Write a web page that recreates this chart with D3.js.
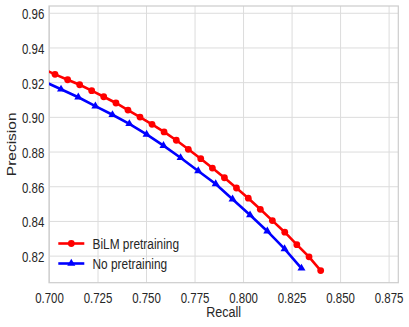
<!DOCTYPE html>
<html><head><meta charset="utf-8">
<script src="https://cdn.jsdelivr.net/npm/d3@7"></script>
<style>body{margin:0;background:#fff}svg{display:block}</style>
</head><body>
<svg id="c" width="409" height="327"></svg>
<script>
const bilmRecall = [0.6969,0.7031,0.7096,0.7158,0.7220,0.7282,0.7345,0.7407,0.7469,0.7531,0.7593,0.7656,0.7718,0.7782,0.7842,0.7904,0.7966,0.8027,0.8089,0.8151,0.8215,0.8277,0.8340,0.8400];
const bilmPrecision = [0.9276,0.9245,0.9214,0.9185,0.9151,0.9116,0.9080,0.9039,0.8999,0.8957,0.8913,0.8865,0.8813,0.8759,0.8705,0.8649,0.8590,0.8531,0.8467,0.8402,0.8335,0.8263,0.8193,0.8114];
const noRecall = [0.6973,0.7062,0.7151,0.7239,0.7327,0.7414,0.7503,0.7590,0.7678,0.7769,0.7859,0.7946,0.8036,0.8125,0.8214,0.8301];
const noPrecision = [0.9205,0.9159,0.9113,0.9062,0.9012,0.8960,0.8899,0.8834,0.8764,0.8688,0.8613,0.8525,0.8434,0.8341,0.8239,0.8127];
const seriesNames = ["BiLM pretraining","No pretraining"];
const xTicks = [0.700,0.725,0.750,0.775,0.800,0.825,0.850,0.875];
const yTicks = [0.82,0.84,0.86,0.88,0.90,0.92,0.94,0.96];
const xLabel = "Recall", yLabel = "Precision";

const L=49, R=398.3, T=6, B=282.7, W=R-L, H=B-T;
const svg = d3.select("#c");
const x = d3.scaleLinear().domain([0.7,0.88]).range([0,W]);
const y = d3.scaleLinear().domain([0.8044,0.9639]).range([H,0]);
const g = svg.append("g").attr("transform",`translate(${L},${T})`);
const font = "'Liberation Sans', Arial, sans-serif";
const SX = 0.82;

svg.append("defs").append("clipPath").attr("id","clip").append("rect").attr("width",W).attr("height",H);

const xa = g.append("g").attr("transform",`translate(0,${H})`)
  .call(d3.axisBottom(x).tickValues(xTicks).tickFormat(d3.format(".3f")).tickSize(-H).tickPadding(0));
const ya = g.append("g")
  .call(d3.axisLeft(y).tickValues(yTicks).tickFormat(d3.format(".2f")).tickSize(-W).tickPadding(0));
[xa,ya].forEach(a=>{
  a.select(".domain").remove();
  a.selectAll(".tick line").attr("stroke","#dcdcdc").attr("stroke-width",1);
  a.selectAll("text").attr("fill","#262626").style("font-family",font).style("font-size","14px")
    .attr("x",null).attr("y",null).attr("dy",null);
});
xa.selectAll("text").attr("text-anchor","middle").attr("transform",`translate(0,20.6) scale(${SX},1)`);
ya.selectAll("text").attr("text-anchor","end").attr("transform",`translate(-4.7,6) scale(${SX},1)`);

g.append("rect").attr("width",W).attr("height",H).attr("fill","none").attr("stroke","#cccccc").attr("stroke-width",1.2);

const line = d3.line().x(d=>x(d[0])).y(d=>y(d[1]));
const red = bilmRecall.map((r,i)=>[r,bilmPrecision[i]]);
const blue = noRecall.map((r,i)=>[r,noPrecision[i]]);
const plot = g.append("g").attr("clip-path","url(#clip)");
plot.append("path").datum(red).attr("d",line).attr("fill","none").attr("stroke","#ff0000").attr("stroke-width",2.6);
plot.append("path").datum(blue).attr("d",line).attr("fill","none").attr("stroke","#0000ff").attr("stroke-width",2.6);
plot.selectAll(".rm").data(red).join("circle").attr("cx",d=>x(d[0])).attr("cy",d=>y(d[1])).attr("r",3.4).attr("fill","#ff0000");
const tri = d3.symbol().type(d3.symbolTriangle).size(28);
plot.selectAll(".bm").data(blue).join("path").attr("d",tri).attr("transform",d=>`translate(${x(d[0])},${y(d[1])})`).attr("fill","#0000ff");

// axis labels
svg.append("text").attr("transform",`translate(${(L+R)/2},317.3) scale(0.81,1)`).attr("text-anchor","middle")
  .style("font-family",font).style("font-size","15.5px").attr("fill","#262626").text(xLabel);
svg.append("text").attr("transform",`translate(16,${(T+B)/2}) rotate(-90) scale(1,0.82)`).attr("text-anchor","middle")
  .style("font-family",font).style("font-size","15.5px").attr("fill","#262626").text(yLabel);

// legend
const lg = svg.append("g");
const legendRows = [{name:seriesNames[0],color:"#ff0000",type:"circle",y:243.5},{name:seriesNames[1],color:"#0000ff",type:"tri",y:263.5}];
legendRows.forEach(d=>{
  lg.append("line").attr("x1",58.3).attr("x2",84.3).attr("y1",d.y).attr("y2",d.y).attr("stroke",d.color).attr("stroke-width",2.6);
  if(d.type==="circle") lg.append("circle").attr("cx",71.3).attr("cy",d.y).attr("r",3.4).attr("fill",d.color);
  else lg.append("path").attr("d",tri).attr("transform",`translate(71.3,${d.y})`).attr("fill",d.color);
  lg.append("text").attr("transform",`translate(92.5,${d.y+5.5}) scale(${SX},1)`).style("font-family",font).style("font-size","14.5px")
    .attr("fill","#262626").text(d.name);
});
</script>
</body></html>
